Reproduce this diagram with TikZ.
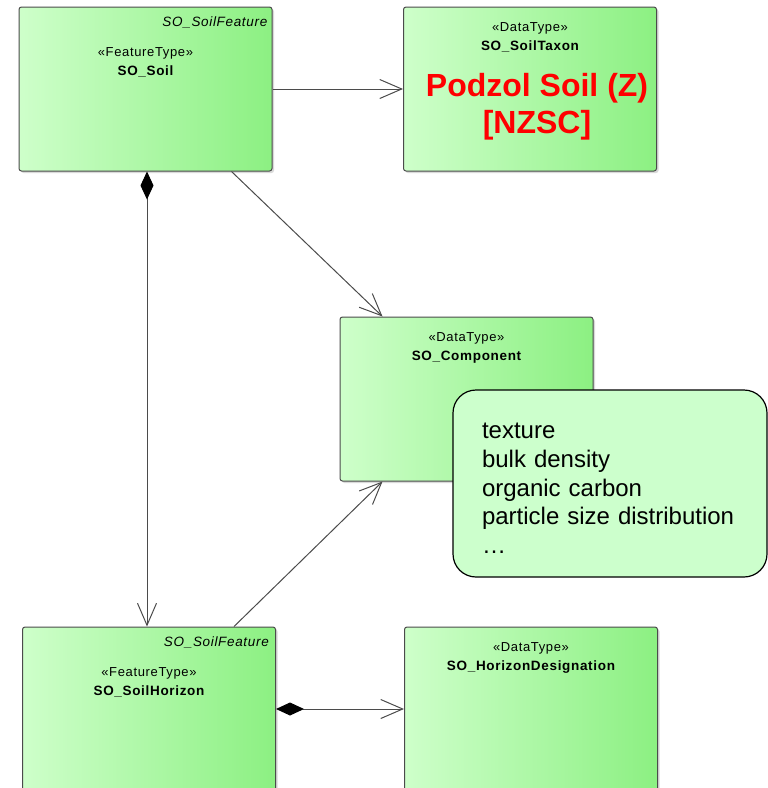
\documentclass[tikz,border=0pt]{standalone}
\usepackage{fontspec}
\setmainfont{Liberation Sans}
\newfontfamily\umlfont[LetterSpace=5]{Liberation Sans}
\usetikzlibrary{arrows.meta,positioning,shadows}

\definecolor{classlight}{RGB}{206,255,202}
\definecolor{classdark}{RGB}{140,240,130}
\definecolor{notefill}{RGB}{204,255,204}
\definecolor{linegrey}{RGB}{75,75,75}

\begin{document}
\begin{tikzpicture}[x=1pt,y=-1pt,
    class/.style={draw=linegrey,line width=1pt,rounded corners=2.5pt,
        left color=classlight,right color=classdark,
        minimum width=253pt,minimum height=164pt,
        drop shadow={shadow xshift=2pt,shadow yshift=-2pt,opacity=0.3}},
    tag/.style={inner sep=0pt,font=\umlfont\fontsize{13.5}{16}\selectfont\itshape},
    stereo/.style={inner sep=0pt,anchor=base,font=\umlfont\fontsize{13}{16}\selectfont},
    cname/.style={inner sep=0pt,anchor=base,font=\umlfont\fontsize{13.5}{16}\selectfont\bfseries},
    note/.style={draw=black,line width=1.2pt,rounded corners=23pt,fill=notefill,
        minimum width=314pt,minimum height=187pt,text width=256pt,align=left,
        font=\fontsize{24}{28.7}\selectfont},
    assoc/.style={draw=linegrey,line width=1pt,
        -{Straight Barb[length=22pt,width=19pt,line width=1pt]}},
    comp/.style={assoc,{Diamond[length=28pt,width=13pt,black]}-{Straight Barb[length=22pt,width=19pt,line width=1pt]}}]
    \clip (0,0) rectangle (768,788);

    % classes
    \node[class] (soil)    at (145.5,89) {};
    \node[class] (taxon)   at (530,89) {};
    \node[class] (comp)    at (466.5,399) {};
    \node[class] (horizon) at (149,709) {};
    \node[class] (desig)   at (531,709) {};

    % SO_Soil
    \node[tag,anchor=base east] (soiltag) at ([xshift=-5pt,yshift=-19.5pt]soil.north east) {SO\_SoilFeature};
    \node[stereo] (soilst) at ([yshift=-49.5pt]soil.north) {«FeatureType»};
    \node[cname]  (soilnm) at ([yshift=-68.5pt]soil.north) {SO\_Soil};

    % SO_SoilTaxon
    \node[stereo] (taxonst) at ([yshift=-24.5pt]taxon.north) {«DataType»};
    \node[cname]  (taxonnm) at ([yshift=-43.5pt]taxon.north) {SO\_SoilTaxon};
    \node[align=center,text=red,inner sep=0pt,
        font=\fontsize{32}{37}\selectfont\bfseries] (podzol)
        at ([xshift=7pt,yshift=-17.5pt]taxon.center) {Podzol Soil (Z)\\{}[NZSC]};

    % SO_Component
    \node[stereo] (compst) at ([yshift=-24.5pt]comp.north) {«DataType»};
    \node[cname]  (compnm) at ([yshift=-43.5pt]comp.north) {SO\_Component};

    % SO_SoilHorizon
    \node[tag,anchor=base east] (hortag) at ([xshift=-7pt,yshift=-19.5pt]horizon.north east) {SO\_SoilFeature};
    \node[stereo] (horst) at ([yshift=-49.5pt]horizon.north) {«FeatureType»};
    \node[cname]  (hornm) at ([yshift=-68.5pt]horizon.north) {SO\_SoilHorizon};

    % SO_HorizonDesignation
    \node[stereo] (desigst) at ([yshift=-24.5pt]desig.north) {«DataType»};
    \node[cname]  (designm) at ([yshift=-43.5pt]desig.north) {SO\_HorizonDesignation};

    % links
    \path (soil.east) edge[assoc] (taxon.west)
          ([xshift=1.5pt]soil.south) edge[comp] ([xshift=-2pt]horizon.north)
          ([xshift=86pt]soil.south) edge[assoc] ([xshift=-84pt]comp.north)
          ([xshift=85pt]horizon.north) edge[assoc] ([xshift=-84pt]comp.south)
          (horizon.east) edge[comp] (desig.west);

    % note
    \node[note] (attrs) at (610,483.5) {\rule{0pt}{25pt}texture\\bulk density\\organic carbon\\particle size distribution\\…};
\end{tikzpicture}
\end{document}
